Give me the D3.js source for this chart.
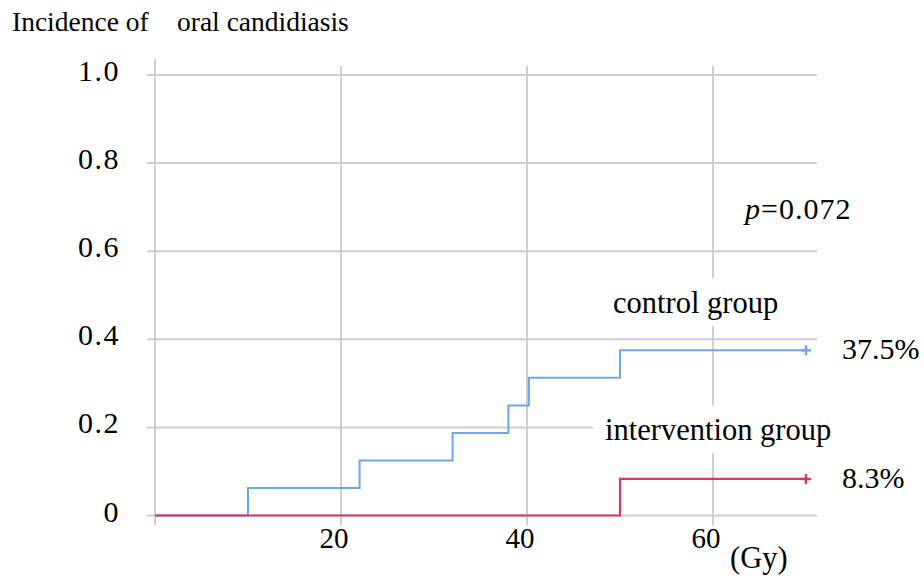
<!DOCTYPE html>
<html>
<head>
<meta charset="utf-8">
<script src="https://cdn.jsdelivr.net/npm/d3@7/dist/d3.min.js"></script>
<style>
  html, body { margin: 0; padding: 0; background: #fff; }
  svg { display: block; font-family: "Liberation Serif", "Times New Roman", serif; }
</style>
</head>
<body>
<svg id="chart" width="924" height="578"></svg>
<script>
// Cumulative incidence of oral candidiasis by radiation dose (Gy)
const yTicks = [0, 0.2, 0.4, 0.6, 0.8, 1.0];
const yTickLabels = ["0", "0.2", "0.4", "0.6", "0.8", "1.0"];
const xTicks = [20, 40, 60];
const xGridValues = [0, 20, 40, 60];

// Step curves: dose at which each step occurs, and incidence after it
const controlDose = [0, 10, 22, 32, 38, 40.2, 50, 70];
const controlIncidence = [0, 0.0625, 0.125, 0.1875, 0.25, 0.3125, 0.375, 0.375];
const interventionDose = [0, 50, 70];
const interventionIncidence = [0, 0.083, 0.083];

// Censoring marks at the end of follow-up
const censorDose = [70, 70];
const censorIncidence = [0.375, 0.083];

const controlColor = "#6fa6ea";
const interventionColor = "#e2355d";
const gridColor = "#cfcfcf";

const svg = d3.select("#chart");
const x = d3.scaleLinear().domain([0, 70]).range([155, 806]);
const y = d3.scaleLinear().domain([0, 1]).range([515.5, 75]);

// Horizontal grid lines (extend slightly past the plot on both sides)
svg.append("g").selectAll("line").data(yTicks).join("line")
  .attr("x1", 147).attr("x2", 817)
  .attr("y1", d => y(d)).attr("y2", d => y(d))
  .attr("stroke", gridColor).attr("stroke-width", 2);

// Vertical grid lines
svg.append("g").selectAll("line").data(xGridValues).join("line")
  .attr("x1", d => x(d)).attr("x2", d => x(d))
  .attr("y1", d => d === 0 ? 59 : 66).attr("y2", 525)
  .attr("stroke", gridColor).attr("stroke-width", 2);

// Y tick labels
svg.append("g").selectAll("text").data(yTicks).join("text")
  .attr("x", 120).attr("y", d => y(d) + 6)
  .attr("text-anchor", "end")
  .attr("font-size", 30)
  .attr("letter-spacing", 1.5)
  .text((d, i) => yTickLabels[i]);

// X tick labels
svg.append("g").selectAll("text").data(xTicks).join("text")
  .attr("x", d => x(d) - 7).attr("y", 548)
  .attr("text-anchor", "middle")
  .attr("font-size", 29)
  .text(d => d);

// Axis titles
const yTitle = svg.append("text").attr("y", 31).attr("font-size", 27.5);
yTitle.append("tspan").attr("x", 12).text("Incidence of");
yTitle.append("tspan").attr("x", 177).text("oral candidiasis");

svg.append("text")
  .attr("x", 730).attr("y", 568)
  .attr("font-size", 30.5)
  .text("(Gy)");

// Labels with a white backdrop that breaks the grid lines behind them
function boxedLabel(tx, ty, str) {
  const g = svg.append("g");
  const rect = g.append("rect").attr("fill", "#fff");
  const t = g.append("text").attr("x", tx).attr("y", ty)
    .attr("font-size", 30.5).text(str);
  const b = t.node().getBBox();
  rect.attr("x", b.x - 12).attr("y", b.y - 8)
    .attr("width", b.width + 24).attr("height", b.height + 14);
}
boxedLabel(613, 313, "control group");
boxedLabel(605, 440, "intervention group");

// p-value
const pText = svg.append("text").attr("x", 745).attr("y", 219)
  .attr("font-size", 30).attr("letter-spacing", 1);
pText.append("tspan").attr("font-style", "italic").text("p");
pText.append("tspan").text("=0.072");

// End-point percentages
svg.append("text").attr("x", 842).attr("y", 359).attr("font-size", 30).text("37.5%");
svg.append("text").attr("x", 842).attr("y", 488).attr("font-size", 30).text("8.3%");

// Step curves
const step = d3.line()
  .x(d => x(d[0])).y(d => y(d[1]))
  .curve(d3.curveStepAfter);

svg.append("path")
  .datum(d3.zip(controlDose, controlIncidence))
  .attr("d", step)
  .attr("fill", "none").attr("stroke", controlColor).attr("stroke-width", 2);

svg.append("path")
  .datum(d3.zip(interventionDose, interventionIncidence))
  .attr("d", step)
  .attr("fill", "none").attr("stroke", interventionColor).attr("stroke-width", 2.2);

// Censor "+" marks
const censorColors = [controlColor, interventionColor];
const marks = svg.append("g").selectAll("g").data(d3.zip(censorDose, censorIncidence)).join("g")
  .attr("transform", d => `translate(${x(d[0])},${y(d[1])})`);
marks.append("line").attr("x1", -5).attr("x2", 5).attr("y1", 0).attr("y2", 0)
  .attr("stroke", (d, i) => censorColors[i]).attr("stroke-width", 2.5);
marks.append("line").attr("x1", 0).attr("x2", 0).attr("y1", -5).attr("y2", 5)
  .attr("stroke", (d, i) => censorColors[i]).attr("stroke-width", 2.5);
</script>
</body>
</html>
